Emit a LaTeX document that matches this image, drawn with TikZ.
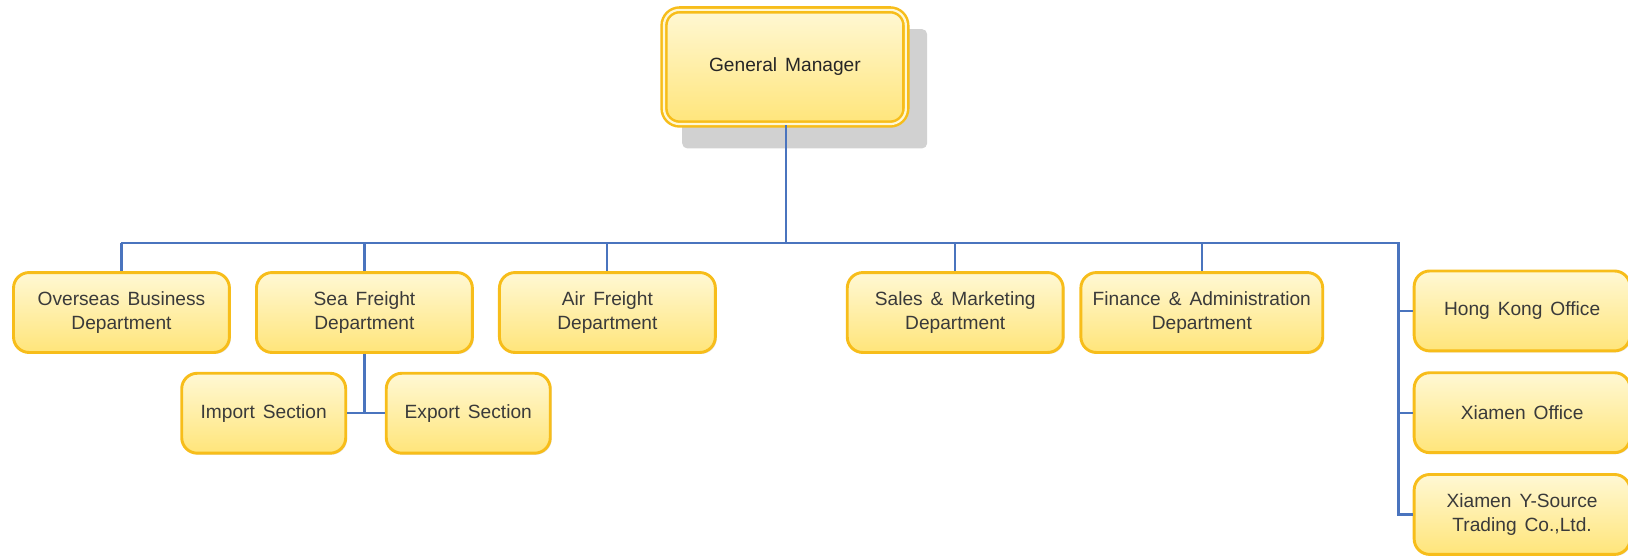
\documentclass[tikz,border=0pt]{standalone}
\usepackage{fontspec}
\setmainfont{Liberation Sans}[WordSpace=1.5]
\usetikzlibrary{shadows}
\definecolor{boxline}{HTML}{F7BD1A}
\definecolor{boxtop}{HTML}{FFF8D4}
\definecolor{boxbot}{HTML}{FFE57A}
\definecolor{linkblue}{HTML}{4A74BE}
\definecolor{txt}{HTML}{3A3A3A}
\tikzset{
    x = 0.02cm, y = -0.02cm,
    unit/.style = {rounded corners = 0.3cm, draw = boxline, line width = 1.6pt,
        top color = boxtop, bottom color = boxbot, text = txt, align = center,
        font = \fontsize{10.5}{13}\selectfont, inner sep = 0pt,
        drop shadow = {opacity = 0.2, shadow xshift = 0.8pt, shadow yshift = -0.8pt}},
    dept/.style = {unit, minimum width = 4.16cm, minimum height = 1.54cm},
    link/.style = {draw = linkblue, line width = 1.2pt}
}

\begin{document}
\begin{tikzpicture}
    \useasboundingbox (0, 0) rectangle (1568, 536);
    \clip (0, 0) rectangle (1568, 536);

    \node[fill = black!18, rounded corners = 0.1cm, minimum width = 4.72cm,
        minimum height = 2.3cm] (gmshadow) at (775, 85.5) {};
    \node[unit, double = boxtop, double distance = 1.2pt, line width = 1.4pt,
        minimum width = 4.66cm, minimum height = 2.2cm, text = black!85] (gm) at (756, 64.5) {General Manager};

    \node[dept] (over) at (117, 301) {Overseas Business\\Department};
    \node[dept] (sea) at (351, 301) {Sea Freight\\Department};
    \node[dept] (air) at (585, 301) {Air Freight\\Department};
    \node[dept] (sales) at (920, 301) {Sales \& Marketing\\Department};
    \node[dept, minimum width = 4.66cm] (fin) at (1157.5, 301) {Finance \& Administration\\Department};

    \node[dept, minimum width = 3.16cm] (imp) at (254, 398) {Import Section};
    \node[dept, minimum width = 3.16cm] (exp) at (451, 398) {Export Section};

    \node[dept] (hk) at (1466, 299.5) {Hong Kong Office};
    \node[dept] (xmo) at (1466, 397.5) {Xiamen Office};
    \node[dept] (xys) at (1466, 495.5) {Xiamen Y-Source\\Trading Co.,Ltd.};

    \coordinate (hub) at (757, 234);
    \coordinate (rtop) at (1347, 234);

    \draw[link] (gm.south -| hub) -- (hub);
    \draw[link] (over.north |- hub) -- (rtop) |- (xys.west);
    \foreach \d in {over, sea, air, sales, fin}
        \draw[link] (\d.north |- hub) -- (\d.north);
    \foreach \o in {hk, xmo}
        \draw[link] (\o.west -| rtop) -- (\o.west);

    \draw[link] (sea.south) -- (sea.south |- imp.east);
    \draw[link] (imp.east) -- (exp.west);
\end{tikzpicture}
\end{document}
